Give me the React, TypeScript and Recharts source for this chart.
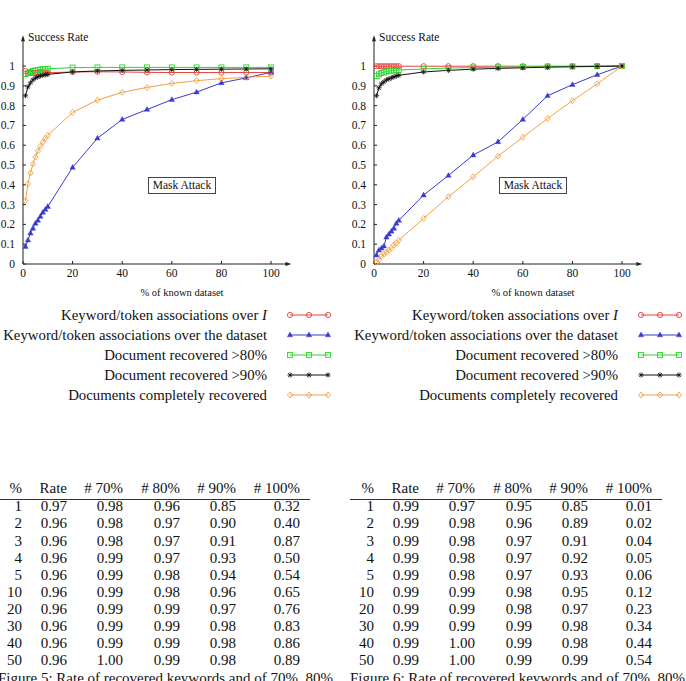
import React from 'react';
import { LineChart, Line, XAxis, YAxis, ReferenceDot } from 'recharts';

// % of the dataset that is known to the attacker
const PCT = [1, 2, 3, 4, 5, 6, 7, 8, 9, 10, 20, 30, 40, 50, 60, 70, 80, 90, 100];

// Figure 5 curves
const F5_OVER_I = [0.975, 0.965, 0.965, 0.965, 0.965, 0.965, 0.965, 0.965, 0.966, 0.966, 0.97, 0.971, 0.97, 0.968, 0.967, 0.967, 0.967, 0.967, 0.967];
const F5_OVER_DATASET = [0.088, 0.12, 0.155, 0.18, 0.205, 0.22, 0.24, 0.26, 0.275, 0.29, 0.488, 0.635, 0.73, 0.78, 0.83, 0.868, 0.915, 0.94, 0.968];
const F5_DOC80 = [0.96, 0.965, 0.97, 0.975, 0.978, 0.98, 0.982, 0.984, 0.985, 0.986, 0.992, 0.993, 0.993, 0.993, 0.993, 0.993, 0.993, 0.993, 0.993];
const F5_DOC90 = [0.85, 0.895, 0.915, 0.93, 0.94, 0.945, 0.95, 0.953, 0.956, 0.958, 0.97, 0.975, 0.978, 0.98, 0.982, 0.983, 0.984, 0.985, 0.986];
const F5_DOC100 = [0.32, 0.405, 0.46, 0.505, 0.54, 0.57, 0.595, 0.615, 0.635, 0.65, 0.766, 0.828, 0.867, 0.892, 0.912, 0.926, 0.936, 0.943, 0.949];

// Figure 6 curves
const F6_OVER_I = [0.999, 0.999, 0.999, 0.999, 0.999, 0.999, 0.999, 0.999, 0.999, 0.999, 0.999, 0.999, 0.999, 0.999, 0.999, 0.999, 0.999, 0.999, 1.0];
const F6_OVER_DATASET = [0.045, 0.07, 0.08, 0.09, 0.135, 0.15, 0.165, 0.18, 0.205, 0.22, 0.348, 0.447, 0.55, 0.617, 0.73, 0.85, 0.906, 0.956, 1.0];
const F6_DOC80 = [0.95, 0.958, 0.965, 0.968, 0.972, 0.975, 0.977, 0.978, 0.979, 0.98, 0.985, 0.99, 0.992, 0.994, 0.995, 0.997, 0.998, 0.999, 1.0];
const F6_DOC90 = [0.85, 0.89, 0.91, 0.92, 0.93, 0.935, 0.94, 0.945, 0.95, 0.953, 0.97, 0.978, 0.984, 0.988, 0.991, 0.994, 0.996, 0.998, 1.0];
const F6_DOC100 = [0.01, 0.02, 0.04, 0.05, 0.06, 0.07, 0.08, 0.095, 0.105, 0.12, 0.23, 0.34, 0.44, 0.545, 0.64, 0.735, 0.825, 0.91, 1.0];

const X_TICKS = [0, 20, 40, 60, 80, 100];
const Y_TICKS = [0, 0.1, 0.2, 0.3, 0.4, 0.5, 0.6, 0.7, 0.8, 0.9, 1];

const TABLE_HEADER = ['%', 'Rate', '# 70%', '# 80%', '# 90%', '# 100%'];
const TABLE5_ROWS = [
  ['1', '0.97', '0.98', '0.96', '0.85', '0.32'],
  ['2', '0.96', '0.98', '0.97', '0.90', '0.40'],
  ['3', '0.96', '0.98', '0.97', '0.91', '0.87'],
  ['4', '0.96', '0.99', '0.97', '0.93', '0.50'],
  ['5', '0.96', '0.99', '0.98', '0.94', '0.54'],
  ['10', '0.96', '0.99', '0.98', '0.96', '0.65'],
  ['20', '0.96', '0.99', '0.99', '0.97', '0.76'],
  ['30', '0.96', '0.99', '0.99', '0.98', '0.83'],
  ['40', '0.96', '0.99', '0.99', '0.98', '0.86'],
  ['50', '0.96', '1.00', '0.99', '0.98', '0.89'],
];
const TABLE6_ROWS = [
  ['1', '0.99', '0.97', '0.95', '0.85', '0.01'],
  ['2', '0.99', '0.98', '0.96', '0.89', '0.02'],
  ['3', '0.99', '0.98', '0.97', '0.91', '0.04'],
  ['4', '0.99', '0.98', '0.97', '0.92', '0.05'],
  ['5', '0.99', '0.98', '0.97', '0.93', '0.06'],
  ['10', '0.99', '0.99', '0.98', '0.95', '0.12'],
  ['20', '0.99', '0.99', '0.98', '0.97', '0.23'],
  ['30', '0.99', '0.99', '0.99', '0.98', '0.34'],
  ['40', '0.99', '1.00', '0.99', '0.98', '0.44'],
  ['50', '0.99', '1.00', '0.99', '0.99', '0.54'],
];

const FONT = '"Liberation Serif", "Times New Roman", serif';
const AXIS = '#222';

type MarkerKind = 'circle' | 'triangle' | 'square' | 'star' | 'diamond';

const SERIES: { key: string; label: React.ReactNode; color: string; marker: MarkerKind }[] = [
  { key: 'overI', label: <>Keyword/token associations over <i>I</i></>, color: '#e8413c', marker: 'circle' },
  { key: 'overDataset', label: 'Keyword/token associations over the dataset', color: '#3a3ad0', marker: 'triangle' },
  { key: 'doc80', label: 'Document recovered >80%', color: '#2fd62f', marker: 'square' },
  { key: 'doc90', label: 'Document recovered >90%', color: '#111', marker: 'star' },
  { key: 'doc100', label: 'Documents completely recovered', color: '#f4a144', marker: 'diamond' },
];

const Marker = ({ kind, cx, cy, color }: { kind: MarkerKind; cx: number; cy: number; color: string }) => {
  switch (kind) {
    case 'circle':
      return <circle cx={cx} cy={cy} r={2.6} fill="none" stroke={color} strokeWidth={0.9} />;
    case 'triangle':
      return <path d={`M${cx},${cy - 3}L${cx + 2.7},${cy + 1.8}L${cx - 2.7},${cy + 1.8}Z`} fill={color} stroke={color} strokeWidth={0.4} />;
    case 'square':
      return <rect x={cx - 2.5} y={cy - 2.5} width={5} height={5} fill="none" stroke={color} strokeWidth={0.9} />;
    case 'star':
      return (
        <path
          d={`M${cx - 2.6},${cy}H${cx + 2.6}M${cx},${cy - 2.6}V${cy + 2.6}M${cx - 1.9},${cy - 1.9}L${cx + 1.9},${cy + 1.9}M${cx - 1.9},${cy + 1.9}L${cx + 1.9},${cy - 1.9}`}
          stroke={color}
          strokeWidth={0.8}
        />
      );
    default:
      return <path d={`M${cx},${cy - 3}L${cx + 2.6},${cy}L${cx},${cy + 3}L${cx - 2.6},${cy}Z`} fill="none" stroke={color} strokeWidth={0.9} />;
  }
};

const arrowUp = (p: any) => <path d={`M${p.cx},${p.cy - 3}L${p.cx + 2},${p.cy + 3}L${p.cx - 2},${p.cy + 3}Z`} fill={AXIS} />;
const arrowRight = (p: any) => <path d={`M${p.cx + 3},${p.cy}L${p.cx - 3},${p.cy - 2}L${p.cx - 3},${p.cy + 2}Z`} fill={AXIS} />;

type Curves = { overI: number[]; overDataset: number[]; doc80: number[]; doc90: number[]; doc100: number[] };

const Panel = ({ left, curves }: { left: number; curves: Curves }) => {
  const rows = PCT.map((pct, i) => ({
    pct,
    overI: curves.overI[i],
    overDataset: curves.overDataset[i],
    doc80: curves.doc80[i],
    doc90: curves.doc90[i],
    doc100: curves.doc100[i],
  }));
  const tick = { fill: '#111', fontSize: 11.5, fontFamily: FONT };

  return (
    <div style={{ position: 'absolute', left, top: 0, width: 343, height: 410 }}>
      <LineChart width={343} height={300} data={rows} margin={{ top: 38.3, right: 54.6, bottom: 6, left: 0 }}>
        <XAxis
          dataKey="pct"
          type="number"
          domain={[0, 107]}
          ticks={X_TICKS}
          stroke={AXIS}
          tickSize={-3}
          tickMargin={8}
          height={30}
          tick={tick}
        />
        <YAxis type="number" domain={[0, 1.14]} ticks={Y_TICKS} stroke={AXIS} tickSize={-3} tickMargin={11} width={23} tick={tick} />
        <ReferenceDot x={0} y={1.14} r={0} shape={arrowUp} ifOverflow="visible" />
        <ReferenceDot x={107} y={0} r={0} shape={arrowRight} ifOverflow="visible" />
        {SERIES.map((s) => (
          <Line
            key={s.key}
            dataKey={s.key}
            stroke={s.color}
            strokeWidth={1}
            type="linear"
            isAnimationActive={false}
            dot={(p: any) => <Marker key={`${s.key}-${p.index}`} kind={s.marker} cx={p.cx} cy={p.cy} color={s.color} />}
          />
        ))}
      </LineChart>

      <div style={{ position: 'absolute', left: 28, top: 31, fontSize: 11.5, fontFamily: FONT, whiteSpace: 'nowrap' }}>Success Rate</div>
      <div
        style={{
          position: 'absolute',
          left: 148,
          top: 177,
          width: 66,
          height: 15,
          border: '1.3px solid #444',
          fontSize: 11.5,
          fontFamily: FONT,
          lineHeight: '15px',
          textAlign: 'center',
          whiteSpace: 'nowrap',
        }}
      >
        Mask Attack
      </div>
      <div style={{ position: 'absolute', left: 132, top: 287, width: 100, textAlign: 'center', fontSize: 10.5, fontFamily: FONT, whiteSpace: 'nowrap' }}>
        % of known dataset
      </div>

      {SERIES.map((s, i) => (
        <React.Fragment key={s.key}>
          <div
            style={{
              position: 'absolute',
              right: 343 - 267,
              top: 305 + i * 20,
              fontSize: 14.8,
              lineHeight: '20px',
              fontFamily: FONT,
              whiteSpace: 'nowrap',
              textAlign: 'right',
            }}
          >
            {s.label}
          </div>
          <svg style={{ position: 'absolute', left: 286, top: 308 + i * 20 }} width={46} height={14}>
            <line x1={4} y1={7} x2={42} y2={7} stroke={s.color} strokeWidth={1} />
            {[4, 23, 42].map((x) => (
              <Marker key={x} kind={s.marker} cx={x} cy={7} color={s.color} />
            ))}
          </svg>
        </React.Fragment>
      ))}
    </div>
  );
};

const COL_RIGHT = [22, 67, 123, 180, 236, 300];

const Table = ({ left, rows, caption }: { left: number; rows: string[][]; caption: string }) => {
  const cell = (text: string, col: number, center: number, key: string) => (
    <div
      key={key}
      style={{
        position: 'absolute',
        right: 343 - COL_RIGHT[col],
        top: center - 8.5,
        lineHeight: '17px',
        fontSize: 15,
        fontFamily: FONT,
        whiteSpace: 'nowrap',
        textAlign: 'right',
        color: '#111',
      }}
    >
      {text}
    </div>
  );
  return (
    <div style={{ position: 'absolute', left, top: 0, width: 343, height: 681 }}>
      {TABLE_HEADER.map((h, c) => cell(h, c, 488, `h${c}`))}
      <div style={{ position: 'absolute', left: -2, top: 498.5, width: 312, height: 1.3, background: '#333' }} />
      {rows.map((r, i) => r.map((v, c) => cell(v, c, 506.8 + i * 17.1, `r${i}c${c}`)))}
      {/* caption runs on past the bottom of the page */}
      <div style={{ position: 'absolute', left: -2, top: 670, fontSize: 15, lineHeight: '17px', fontFamily: FONT, whiteSpace: 'nowrap' }}>{caption}</div>
    </div>
  );
};

export default function App() {
  return (
    <div style={{ position: 'absolute', left: 0, top: 0, width: 686, height: 681, overflow: 'hidden', background: '#fff', color: '#111' }}>
      <Panel left={0} curves={{ overI: F5_OVER_I, overDataset: F5_OVER_DATASET, doc80: F5_DOC80, doc90: F5_DOC90, doc100: F5_DOC100 }} />
      <Panel left={351} curves={{ overI: F6_OVER_I, overDataset: F6_OVER_DATASET, doc80: F6_DOC80, doc90: F6_DOC90, doc100: F6_DOC100 }} />
      <Table left={0} rows={TABLE5_ROWS} caption="Figure 5: Rate of recovered keywords and of 70%, 80%" />
      <Table left={352} rows={TABLE6_ROWS} caption="Figure 6: Rate of recovered keywords and of 70%, 80%" />
    </div>
  );
}
